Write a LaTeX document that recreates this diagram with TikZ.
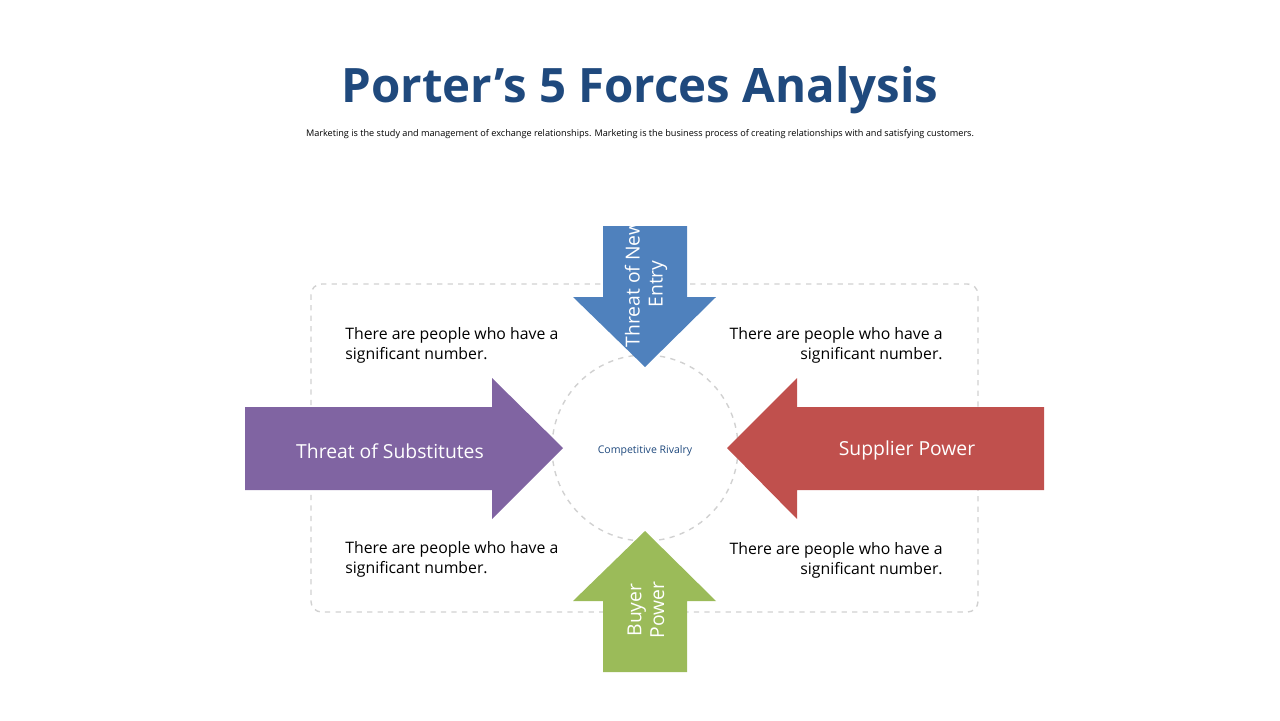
\documentclass[tikz,border=0pt]{standalone}
\usepackage{fontspec}
\setmainfont{Open Sans}
\definecolor{TitleBlue}{HTML}{1F497D}
\definecolor{EntryBlue}{HTML}{4F81BD}
\definecolor{BuyerGreen}{HTML}{9BBB59}
\definecolor{SubstPurple}{HTML}{8064A2}
\definecolor{SupplierRed}{HTML}{C0504D}
\begin{document}
\begin{tikzpicture}
[
x=0.02cm, y=-0.02cm,
Frame/.style={draw=black!18, thick, dashed, rounded corners=6},
Force/.style={draw=none},
ArrowText/.style={text=white, font=\fontsize{11}{13}\selectfont, align=center},
Note/.style={font=\fontsize{9}{11.5}\selectfont, inner sep=0pt},
]

\useasboundingbox (0,0) rectangle (1280,720);

% title
\node (title) at (640,90) {\fontsize{27}{32}\selectfont\bfseries\color{TitleBlue} Porter’s 5 Forces Analysis};
\node (subtitle) at (640,134) {\fontsize{5.2}{6}\selectfont Marketing is the study and management of exchange relationships. Marketing is the business process of creating relationships with and satisfying customers.};

% frame and rivalry circle
\draw[Frame] (311,284) rectangle (978,612);
\draw[Frame, rounded corners=0] (645,448) circle (93);
\node (rivalry) at (645,451) {\fontsize{6}{7}\selectfont\color{TitleBlue} Competitive Rivalry};

% the four forces
\fill[Force, EntryBlue] (603,226) -- (687,226) -- (687,297) -- (716,297) -- (645,367) -- (573,297) -- (603,297) -- cycle;
\fill[Force, BuyerGreen] (603,672) -- (687,672) -- (687,601) -- (716,601) -- (645,531) -- (573,601) -- (603,601) -- cycle;
\fill[Force, SubstPurple] (245,407) -- (492,407) -- (492,378) -- (563,448) -- (492,519) -- (492,490) -- (245,490) -- cycle;
\fill[Force, SupplierRed] (1044,407) -- (797,407) -- (797,378) -- (727,448) -- (797,519) -- (797,490) -- (1044,490) -- cycle;

\node[ArrowText, rotate=90] (entry) at (646,284) {Threat of New\\Entry};
\node[ArrowText, rotate=90] (buyer) at (646,610) {Buyer\\Power};
\node[ArrowText] (subst) at (390,451) {Threat of Substitutes};
\node[ArrowText] (supplier) at (907,450) {Supplier Power};

% notes
\node[Note, anchor=west, align=left] (noteTL) at (345,345) {There are people who have a\\significant number.};
\node[Note, anchor=east, align=right] (noteTR) at (943,345) {There are people who have a\\significant number.};
\node[Note, anchor=west, align=left] (noteBL) at (345,559) {There are people who have a\\significant number.};
\node[Note, anchor=east, align=right] (noteBR) at (943,560) {There are people who have a\\significant number.};

\end{tikzpicture}
\end{document}
